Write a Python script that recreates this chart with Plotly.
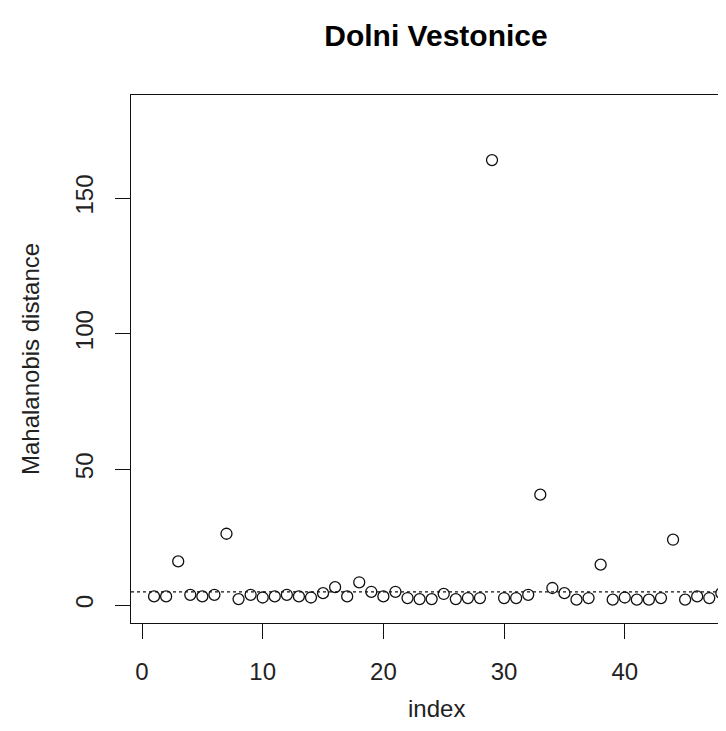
import plotly.graph_objects as go

# ---- data ----
index = list(range(1, 50))
distance = [3.2, 3.2, 16.1, 3.8, 3.2, 3.8, 26.3, 2.2, 3.8, 2.8,
            3.2, 3.8, 3.2, 2.8, 4.4, 6.6, 3.2, 8.4, 4.9, 3.2,
            4.9, 2.6, 2.2, 2.2, 4.1, 2.2, 2.6, 2.6, 164.0, 2.6,
            2.6, 3.8, 40.7, 6.3, 4.4, 2.0, 2.6, 14.9, 2.0, 2.8,
            2.0, 2.0, 2.6, 24.1, 2.0, 3.2, 2.6, 4.4, 4.8]
cutoff = 4.9
x_ticks = [0, 10, 20, 30, 40]
y_ticks = [0, 50, 100, 150]
title_text = "Dolni Vestonice"
x_label = "index"
y_label = "Mahalanobis distance"

FONT = "Liberation Sans, Arial, sans-serif"
W, H = 726, 731
L, R, T, B = 123, 0, 87, 116

fig = go.Figure()
fig.add_trace(go.Scatter(
    x=index, y=distance, mode="markers",
    marker=dict(symbol="circle-open", size=11, color="#111111",
                line=dict(width=1.3, color="#111111")),
    showlegend=False, hoverinfo="x+y",
))

fig.add_shape(type="line", xref="paper", yref="y", x0=0, x1=1,
              y0=cutoff, y1=cutoff,
              line=dict(color="#111111", width=1.2, dash="3px,3px"))

fig.update_layout(
    width=W, height=H,
    margin=dict(l=L, r=R, t=T, b=B, pad=0),
    paper_bgcolor="white", plot_bgcolor="white",
    font=dict(family=FONT, size=24, color="#222222"),
    title=dict(text="<b>" + title_text + "</b>", xref="container", yref="container",
               x=428 / W, y=1 - 27 / H, xanchor="center", yanchor="middle",
               font=dict(family=FONT, size=30, color="#000000")),
    xaxis=dict(range=[-0.911, 49.05], tickvals=x_ticks, ticktext=[str(v) for v in x_ticks],
               showgrid=False, zeroline=False, showline=True, mirror=True,
               linecolor="#111111", linewidth=1.3,
               ticks="outside", ticklen=15, tickwidth=1.3, tickcolor="#111111",
               ticklabelstandoff=12,
               tickfont=dict(family=FONT, size=24, color="#222222")),
    yaxis=dict(range=[-6.6, 188.0], tickvals=y_ticks, ticktext=[str(v) for v in y_ticks],
               showgrid=False, zeroline=False, showline=True, mirror=False,
               linecolor="#111111", linewidth=1.3,
               ticks="outside", ticklen=15, tickwidth=1.3, tickcolor="#111111",
               tickangle=-90, ticklabelstandoff=12,
               tickfont=dict(family=FONT, size=24, color="#222222")),
    annotations=[
        dict(text=x_label, xref="paper", yref="paper",
             x=(428 - L) / (W - L - R), y=(H - B - 700) / (H - T - B),
             xanchor="center", yanchor="middle", showarrow=False,
             font=dict(family=FONT, size=24, color="#222222")),
        dict(text=y_label, xref="paper", yref="paper",
             x=(22 - L) / (W - L - R), y=0.5, textangle=-90,
             xanchor="center", yanchor="middle", showarrow=False,
             font=dict(family=FONT, size=24, color="#222222")),
    ],
)

fig.write_html("out.html")
